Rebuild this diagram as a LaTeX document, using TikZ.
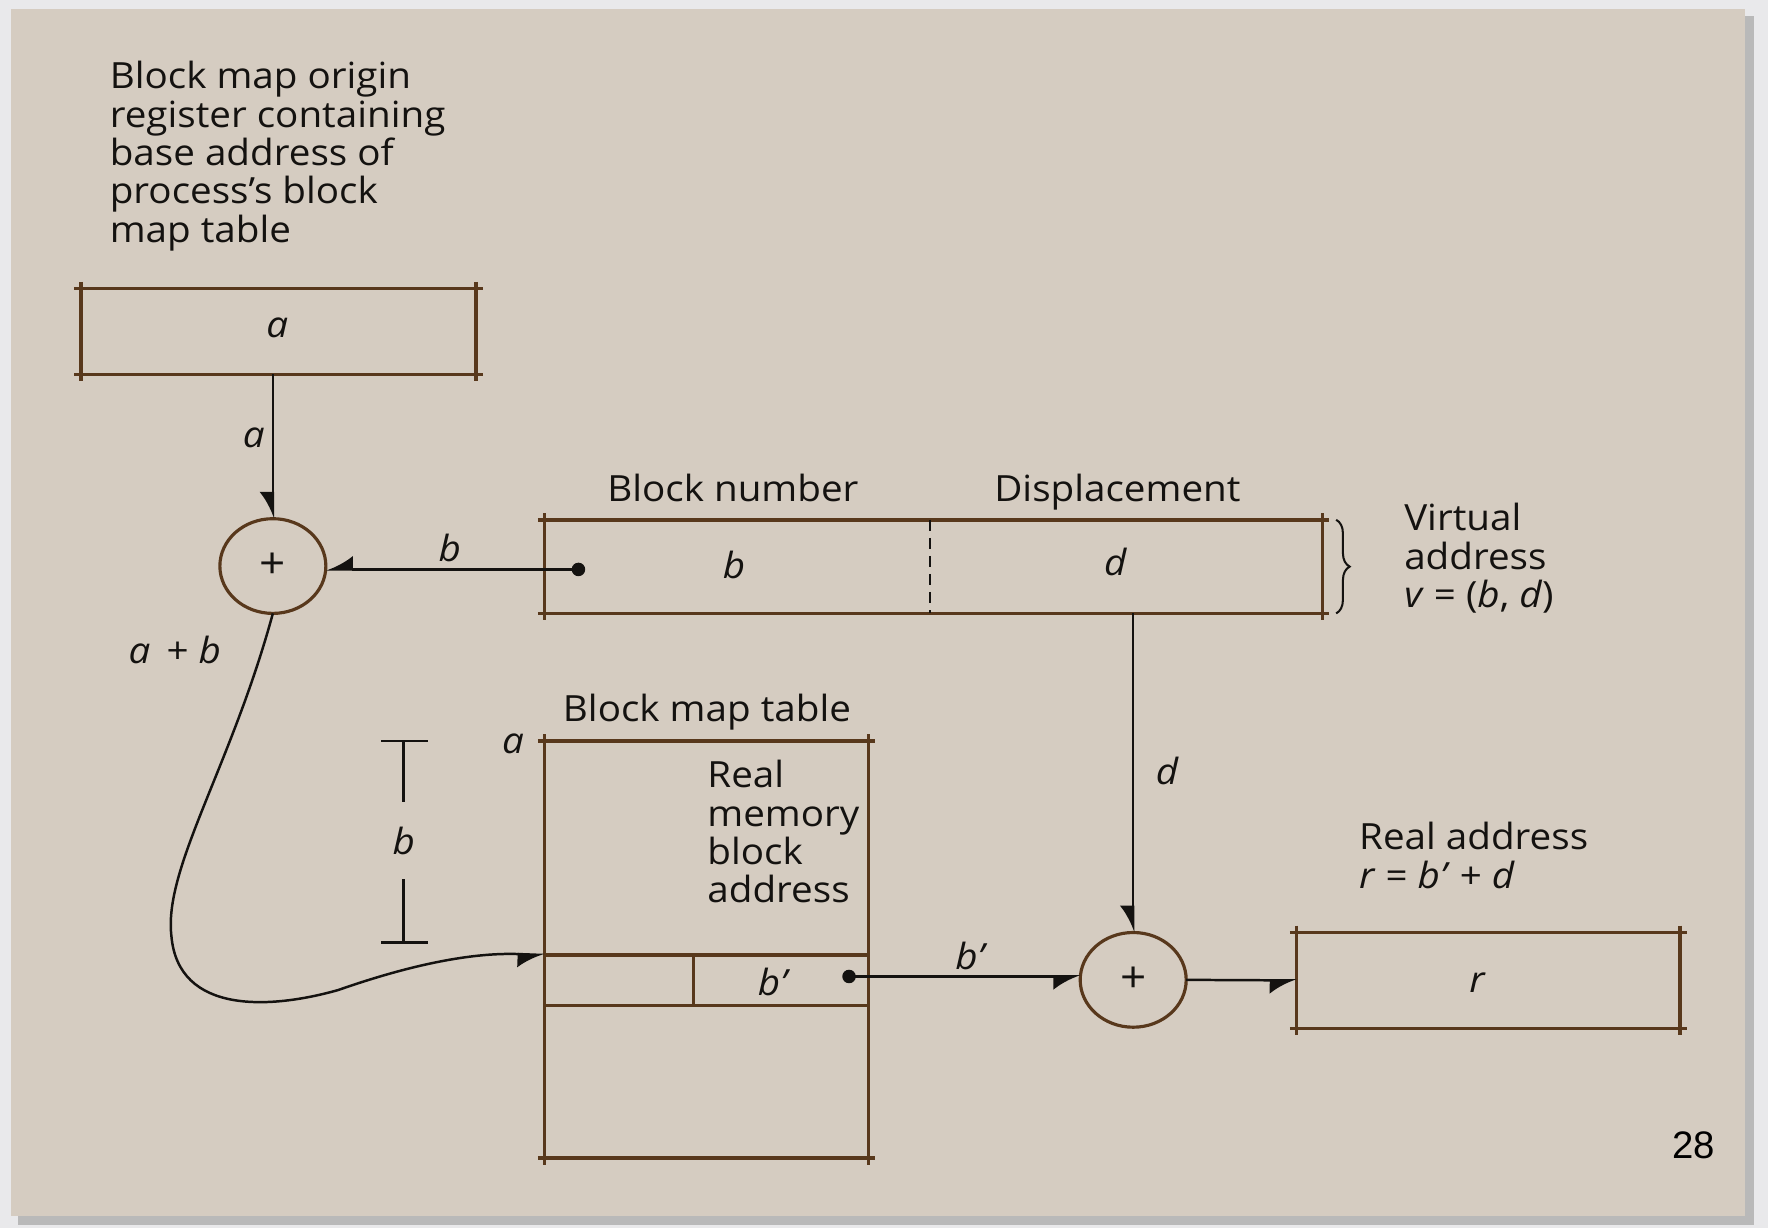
\documentclass[tikz,border=0pt]{standalone}
\usepackage{fontspec}
\setmainfont[FakeStretch=1.07]{Open Sans}
\newfontfamily\arialf{Liberation Sans}
\usetikzlibrary{arrows.meta,shapes.geometric,decorations.pathreplacing}
\definecolor{paper}{RGB}{213,204,193}
\definecolor{outerbg}{RGB}{233,233,235}
\definecolor{brownline}{RGB}{88,56,28}
\definecolor{ink}{RGB}{20,18,16}
\newcommand{\tickframe}[2][3pt]{%
  \draw[boxline] ([xshift=-#1]#2.north west) -- ([xshift=#1]#2.north east);
  \draw[boxline] ([xshift=-#1]#2.south west) -- ([xshift=#1]#2.south east);
  \draw[boxline] ([yshift=#1]#2.north west) -- ([yshift=-#1]#2.south west);
  \draw[boxline] ([yshift=#1]#2.north east) -- ([yshift=-#1]#2.south east);}
\begin{document}
\begin{tikzpicture}[x=0.5pt,y=-0.5pt,
  boxline/.style={draw=brownline,line width=1.5pt},
  frame/.style={draw=none,inner sep=0,outer sep=0,rectangle},
  cell/.style={rectangle,draw=brownline,line width=1.5pt,inner sep=0,outer sep=0},
  adder/.style={ellipse,draw=brownline,line width=1.4pt,minimum width=47pt,minimum height=42pt,inner sep=0,outer sep=0,text=ink,font=\fontsize{19}{20}\selectfont},
  conn/.style={draw=ink,line width=1.1pt},
  arr/.style={conn,-{Latex[length=10.5pt,width=12pt,harpoon,swap]}},
  lbl/.style={text=ink,font=\fontsize{16}{17}\selectfont,inner sep=0},
  ilbl/.style={lbl,font=\fontsize{16}{17}\selectfont\itshape},
  txt/.style={lbl,align=left,anchor=north west},
  dotn/.style={circle,fill=ink,inner sep=0,minimum size=6pt}]
\useasboundingbox (0,0) rectangle (1568,1089);
\fill[outerbg] (0,0) rectangle (1568,1089);
\fill[gray!55] (16,14) rectangle (1556,1086);
\fill[paper] (10,8) rectangle (1548,1078);

% top-left register
\node[txt] (origin) at (97,54) {Block map origin\\register containing\\base address of\\process’s block\\map table};
\node[frame,minimum width=175pt,minimum height=38pt] (boxA) at (247,294) {};
\node[ilbl,anchor=base] (aA) at (246,299) {a};
\node[ilbl,anchor=base] (la) at (225,397) {a};
\node[adder] (c1) at (242,502) {+};

% virtual address
\node[frame,minimum width=345pt,minimum height=41.5pt] (va) at (828,502.5) {};
\node[lbl,anchor=base] (bn) at (650,445) {Block number};
\node[lbl,anchor=base] (disp) at (991,445) {Displacement};
\node[ilbl,anchor=base] (vb) at (651,513) {b};
\node[ilbl,anchor=base] (vd) at (989,510) {d};
\node[dotn] (dot1) at (513,505) {};
\node[ilbl,anchor=base] (lb) at (399,498) {b};
\node[txt] (vlabel) at (1245,446) {Virtual\\address\\\textit{v} = (\textit{b}, \textit{d})};
\node[lbl,anchor=base] (ab) at (155,588) {\textit{a}\, + \textit{b}};

% block map table
\node[frame,minimum width=143.5pt,minimum height=185pt] (tbl) at (626.5,842) {};
\node[cell,minimum width=66pt,minimum height=22.5pt] (rowL) at (549,869.5) {};
\node[cell,minimum width=77.5pt,minimum height=22.5pt] (rowR) at (692.5,869.5) {};
\node[lbl,anchor=base] (bmt) at (627,640) {Block map table};
\node[ilbl,anchor=base] (ta) at (455,668) {a};
\node[txt] (rmba) at (627,674) {Real\\memory\\block\\address};
\node[ilbl,anchor=base] (bp) at (685,883) {b’};
\node[dotn] (dot2) at (753,866) {};
\node[ilbl,anchor=base] (lbp) at (860,860) {b’};

% dimension bar
\node[ilbl,anchor=base] (dimb) at (358,758) {b};
\coordinate (dtop) at (358,657);
\coordinate (dbot) at (358,836);
\draw[conn] ([xshift=-10pt]dtop) -- ([xshift=11pt]dtop);
\draw[conn] ([xshift=-10pt]dbot) -- ([xshift=11pt]dbot);
\draw[conn] (dtop) -- ([yshift=11pt]dimb.north);
\draw[conn] ([yshift=-10.5pt]dimb.south) -- (dbot);

% second adder and real address
\node[ilbl,anchor=base] (ld) at (1035,696) {d};
\node[adder] (c2) at (1005,869) {+};
\node[frame,minimum width=170pt,minimum height=42.5pt] (rbox) at (1320,869.5) {};
\node[ilbl,anchor=base] (rr) at (1310,880) {r};
\node[txt] (ralabel) at (1205,729) {Real address\\\textit{r} = \textit{b’} + \textit{d}};
\node[font=\arialf\fontsize{17}{20}\selectfont,text=black,anchor=base,inner sep=0] (pg) at (1502,1027) {28};

% frames
\tickframe{boxA}
\tickframe{va}
\tickframe{tbl}
\tickframe{rbox}
\draw[conn,line width=1pt,dash pattern=on 5pt off 3pt] ([xshift=-1.5pt]va.north) -- ([xshift=-1.5pt]va.south);

% connectors
\draw[arr] (c1.north |- boxA.south) -- (c1.north);
\draw[arr] (dot1.center) -- (dot1 -| c1.east);
\draw[arr] (c1.south) .. controls (205,680) and (145,770) .. (152,830)
   .. controls (158,900) and (240,895) .. (300,878)
   .. controls (380,850) and (430,845) .. (rowL.north west);
\draw[arr] (c2.north |- va.south) -- (c2.north);
\draw[arr] (dot2.center) -- (dot2 -| c2.west);
\draw[arr] (c2.east) -- (rbox.west);
\draw[conn,line width=0.9pt,decorate,decoration={brace,amplitude=6pt}] ([xshift=6pt]va.north east) -- ([xshift=6pt]va.south east);
\end{tikzpicture}
\end{document}
